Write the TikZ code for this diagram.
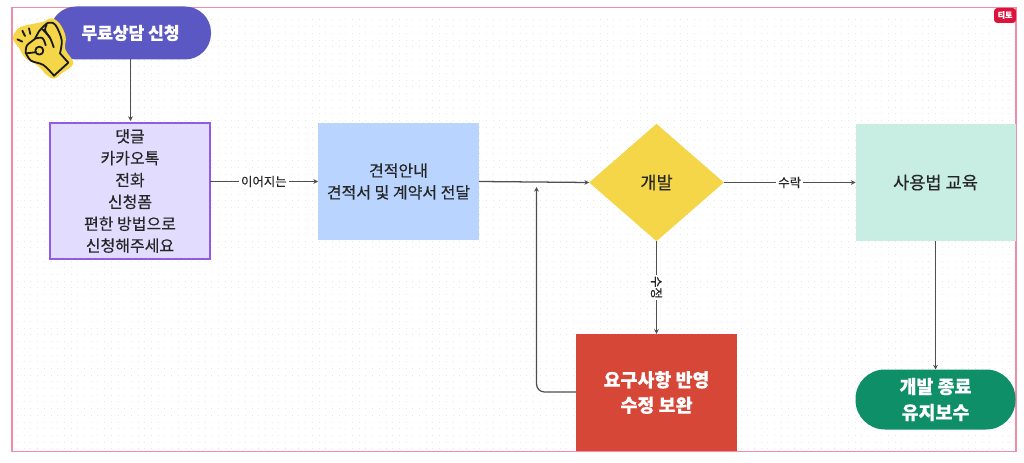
\documentclass[tikz,border=0pt]{standalone}
\usepackage{fontspec}
\setmainfont[FakeBold=0.25]{Noto Sans CJK KR}
\usetikzlibrary{shapes.geometric,arrows.meta}
\definecolor{framec}{HTML}{F08CA8}
\definecolor{linec}{HTML}{4F4F4F}
\definecolor{hand}{HTML}{F4D648}
\definecolor{badgec}{HTML}{DC143C}
\tikzset{
  boxn/.style={inner sep=0pt,outer sep=0pt,align=center,font=\fontsize{12}{16.4}\selectfont,text=black!85},
  bigtxt/.style={font=\fontsize{13.2}{18}\selectfont},
  conn/.style={draw=linec,line width=0.95pt,-{Stealth[length=3.5pt,width=3.5pt]}},
  lab/.style={fill=white,inner sep=1.5pt,font=\fontsize{9.3}{11}\selectfont,text=black!85},
  whitebold/.style={text=white,font=\fontsize{12.8}{19}\selectfont\bfseries},
  handline/.style={draw=black!90,line width=1.35pt,line cap=round,line join=round},
  dotrow/.style={draw=black!9,line width=0.75pt,dash pattern=on 0.75pt off 4.275pt}
}
\begin{document}
\begin{tikzpicture}[x=0.75pt,y=-0.75pt]
\useasboundingbox (0,0) rectangle (1024,463);
\fill[white] (0,0) rectangle (1024,463);
% dot grid
\foreach \j in {0,...,64}{
  \draw[dotrow] (17,{20+\j*6.7}) -- (1012,{20+\j*6.7});
}
% frame
\draw[framec,line width=1.3pt] (12,7.5) rectangle (1016,451.5);
\fill[badgec,rounded corners=2.5pt] (994,8) -- (994,23) -- (1016,23) -- (1016,8) -- cycle;
\node[text=white,inner sep=0pt,font=\fontsize{6}{7}\selectfont\bfseries] (badge) at (1005,15) {티토};
% nodes
\node[boxn,whitebold,fill={rgb,255:red,91;green,88;blue,196},rounded corners=19.5pt,minimum width=120.75pt,minimum height=39.75pt] (start) at (130.5,33) {무료상담 신청};
\node[boxn,fill={rgb,255:red,226;green,220;blue,255},draw={rgb,255:red,144;green,92;blue,230},line width=1.5pt,minimum width=119.5pt,minimum height=102pt] (apply) at (130,191) {댓글\\카카오톡\\전화\\신청폼\\편한 방법으로\\신청해주세요};
\node[boxn,fill={rgb,255:red,184;green,212;blue,255},minimum width=120.75pt,minimum height=88pt] (quote) at (398.5,181.5) {견적안내\\견적서 및 계약서 전달};
\node[boxn,bigtxt,diamond,aspect=1.15,fill=hand,minimum width=101pt,minimum height=88pt] (dev) at (656.5,182.5) {개발};
\node[boxn,bigtxt,fill={rgb,255:red,200;green,237;blue,227},minimum width=120pt,minimum height=88pt] (edu) at (935.5,182.5) {사용법 교육};
\node[boxn,whitebold,font=\fontsize{13.8}{19}\selectfont\bfseries,fill={rgb,255:red,215;green,71;blue,55},minimum width=120.75pt,minimum height=88pt] (fix) at (656.5,392.5) {요구사항 반영\\수정 보완};
\node[boxn,whitebold,font=\fontsize{13.8}{19.5}\selectfont\bfseries,fill={rgb,255:red,14;green,143;blue,104},rounded corners=22pt,minimum width=120pt,minimum height=45pt] (end) at (935.5,399.5) {개발 종료\\유지보수};
% connectors
\draw[conn] (start.south) -- (130.5,121);
\draw[conn] (apply.east |- 0,181.5) -- node[lab,pos=0.5] {이어지는} (quote.west |- 0,181.5);
\draw[conn] (quote.east) -- (dev.west);
\draw[conn] (dev.east) -- node[lab,pos=0.5] {수락} (edu.west);
\draw[conn] (dev.south) -- node[lab,pos=0.5,inner sep=1pt,rotate=-90] {수정} (fix.north);
\coordinate (back) at (536.5,187);
\draw[conn,rounded corners=6pt] (fix.west |- 0,392) -- (536.5,392) -- (back);
\draw[conn] (edu.south) -- (end.north);
% hand
\begin{scope}[shift={(5,10)},x=0.25pt,y=-0.25pt]
\fill[hand] plot[smooth cycle,tension=0.6] coordinates {(24,85) (40,55) (72,44) (112,36) (140,25) (165,42) (182,80) (181,118) (205,160) (170,190) (147,206) (125,195) (98,167) (60,143) (43,115)};
\draw[handline] plot[smooth,tension=0.55] coordinates {(62,128) (66,106) (90,86) (102,64) (130,38) (152,46) (170,90) (165,130)};
\draw[handline] (165,130) -- (190,158) -- (147,197);
\draw[handline] plot[smooth,tension=0.55] coordinates {(147,197) (115,165) (78,152) (62,128)};
\draw[handline] plot[smooth,tension=0.6] coordinates {(112,58) (134,82) (146,112)};
\draw[handline] plot[smooth,tension=0.6] coordinates {(125,45) (120,60) (134,82)};
\draw[handline] plot[smooth,tension=0.6] coordinates {(90,86) (112,84) (122,106)};
\draw[handline] (103,122) circle (12);
\draw[handline] (64,130) -- (90,127);
\draw[handline] (37,88) -- (52,95);
\draw[handline] (52,62) -- (60,78);
\draw[handline] (72,55) -- (76,72);
\end{scope}
\end{tikzpicture}
\end{document}
